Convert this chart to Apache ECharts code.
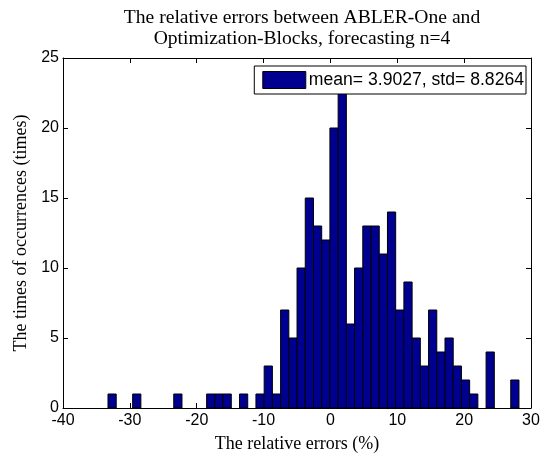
<!DOCTYPE html>
<html><head><meta charset="utf-8">
<script src="https://cdn.jsdelivr.net/npm/echarts@6/dist/echarts.min.js"></script>
<style>html,body{margin:0;padding:0;background:#fff}#c{width:549px;height:459px}</style>
</head><body><div id="c"></div>
<script>
// Histogram: 50 equal bins from data min to data max
const binMin = -33.27;
const binMax = 28.2;
const counts = [1,0,0,1,0,0,0,0,1,0,0,0,1,1,1,0,1,0,1,3,1,7,5,10,15,13,12,20,23,6,10,13,13,11,14,7,9,5,3,7,4,5,3,2,1,0,4,0,0,2];
const xTicks = [-40,-30,-20,-10,0,10,20,30];
const yTicks = [0,5,10,15,20,25];
const legendLabel = 'mean= 3.9027, std= 8.8264';
const titleText = 'The relative errors between ABLER-One and\nOptimization-Blocks, forecasting n=4';

const binW = (binMax - binMin) / counts.length;
const data = counts.map((c, i) => [binMin + i * binW, binMin + (i + 1) * binW, c]);

const chart = echarts.init(document.getElementById('c'), null, {renderer: 'canvas'});
const sans = 'Liberation Sans, Arial, sans-serif';
const serif = 'Liberation Serif, Times New Roman, serif';
const axisCommon = {
  axisLine: {show: true, onZero: false, lineStyle: {color: '#000', width: 1}},
  axisTick: {show: true, inside: true, length: 5, lineStyle: {color: '#000'}},
  splitLine: {show: false}
};
chart.setOption({
  animation: false,
  backgroundColor: '#fff',
  title: {
    text: titleText, left: 297, top: 2, textAlign: 'center',
    textStyle: {fontFamily: serif, fontSize: 19.6, fontWeight: 'normal', color: '#000', lineHeight: 21}
  },
  grid: {left: 63, top: 58, right: 18, bottom: 51},
  legend: {
    data: [{name: legendLabel, icon: 'rect'}],
    right: 23, top: 66, orient: 'vertical',
    backgroundColor: '#fff', borderColor: '#000', borderWidth: 1,
    padding: [5, 2, 5, 8], itemWidth: 43, itemHeight: 17, itemGap: 0,
    textStyle: {fontFamily: sans, fontSize: 17.6, color: '#000', padding: [0, 0, 0, -2]},
    itemStyle: {color: '#000090', borderColor: '#000', borderWidth: 1}
  },
  xAxis: [
    Object.assign({type: 'value', position: 'bottom', min: -40, max: 30, interval: 10,
      name: 'The relative errors (%)', nameLocation: 'middle', nameGap: 27,
      nameTextStyle: {fontFamily: serif, fontSize: 18, color: '#000'},
      axisLabel: {fontFamily: sans, fontSize: 16, color: '#000', margin: 5}}, axisCommon),
    Object.assign({type: 'value', position: 'top', min: -40, max: 30, interval: 10,
      axisLabel: {show: false}}, axisCommon)
  ],
  yAxis: [
    Object.assign({type: 'value', position: 'left', min: 0, max: 25, interval: 5,
      name: 'The times of occurrences (times)', nameLocation: 'middle', nameGap: 33,
      nameTextStyle: {fontFamily: serif, fontSize: 18, color: '#000'},
      axisLabel: {fontFamily: sans, fontSize: 16, color: '#000', margin: 4}}, axisCommon),
    Object.assign({type: 'value', position: 'right', min: 0, max: 25, interval: 5,
      axisLabel: {show: false}}, axisCommon)
  ],
  series: [{
    name: legendLabel,
    type: 'custom',
    xAxisIndex: 0, yAxisIndex: 0,
    itemStyle: {color: '#000090', borderColor: '#000', borderWidth: 1},
    encode: {x: [0, 1], y: 2},
    renderItem: function (params, api) {
      const v = api.value(2);
      if (!v) return null;
      const p0 = api.coord([api.value(0), v]);
      const p1 = api.coord([api.value(1), 0]);
      return {
        type: 'rect',
        shape: {x: p0[0], y: p0[1], width: p1[0] - p0[0], height: p1[1] - p0[1]},
        style: {fill: '#000090', stroke: '#000', lineWidth: 1}
      };
    },
    data: data
  }]
});
</script></body></html>
